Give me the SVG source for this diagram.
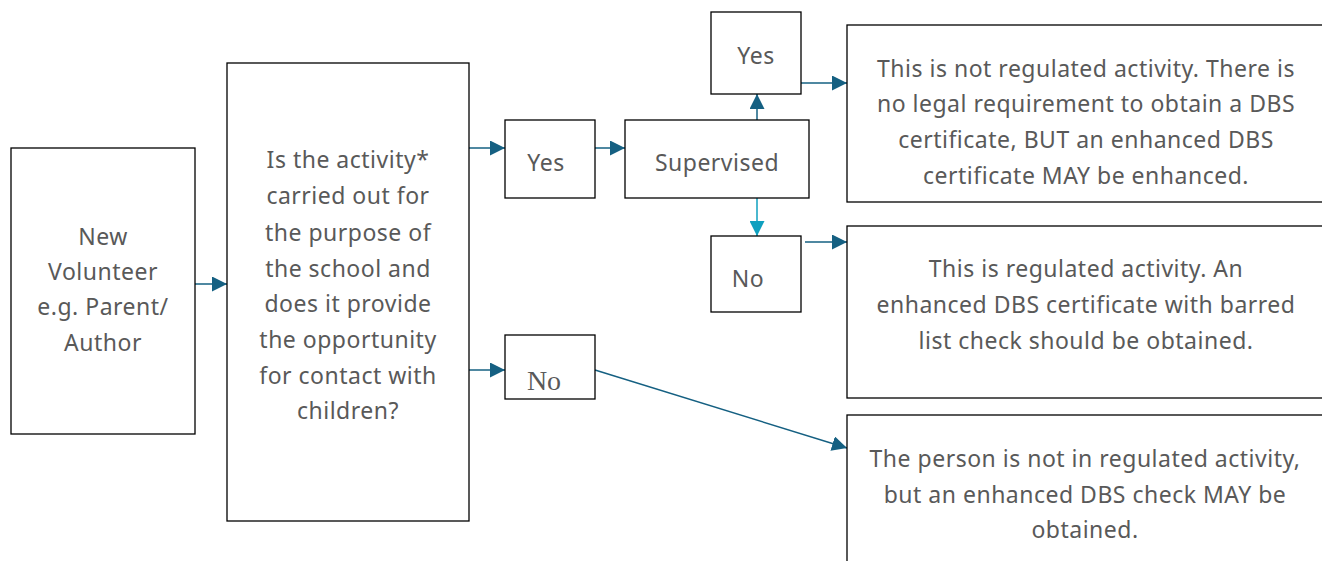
<svg xmlns="http://www.w3.org/2000/svg" width="1322" height="561" viewBox="0 0 1322 561">
<defs>
<marker id="ah" viewBox="0 0 10 10" refX="10" refY="5" markerWidth="10" markerHeight="10" markerUnits="strokeWidth" orient="auto"><path d="M0,0 L10,5 L0,10 z" fill="#156082"/></marker>
<marker id="ahc" viewBox="0 0 10 10" refX="10" refY="5" markerWidth="10" markerHeight="10" markerUnits="strokeWidth" orient="auto"><path d="M0,0 L10,5 L0,10 z" fill="#0FA0BF"/></marker>
</defs>
<style>
.box{fill:#fff;stroke:#000;stroke-width:1.3}
.t{font-family:"Noto Sans","Liberation Sans",sans-serif;font-size:23px;letter-spacing:0.5px;fill:#595959;text-anchor:middle}
.s{font-family:"Liberation Serif",serif;font-size:28px;fill:#595959;text-anchor:middle}
.c{fill:none;stroke:#156082;stroke-width:1.5;marker-end:url(#ah)}
.cc{fill:none;stroke:#0FA0BF;stroke-width:1.5;marker-end:url(#ahc)}
</style>
<g id="connectors">
<line class="c" x1="191" y1="284" x2="227" y2="284"/>
<line class="c" x1="469" y1="148" x2="505" y2="148"/>
<line class="c" x1="595" y1="148" x2="625" y2="148"/>
<line class="c" x1="757" y1="120" x2="757" y2="94"/>
<line class="cc" x1="757" y1="198" x2="757" y2="236"/>
<line class="c" x1="801" y1="83" x2="847" y2="83"/>
<line class="c" x1="805" y1="242" x2="847" y2="242"/>
<line class="c" x1="469" y1="370" x2="505" y2="370"/>
<line class="c" x1="595" y1="370" x2="847" y2="448"/>
</g>
<g id="n-volunteer"><rect class="box" x="11" y="148" width="184" height="286"/>
<text class="t" x="103" y="245">New</text><text class="t" x="103" y="280">Volunteer</text><text class="t" x="103" y="315">e.g. Parent/</text><text class="t" x="103" y="351">Author</text></g>
<g id="n-question"><rect class="box" x="227" y="63" width="242" height="458"/>
<text class="t" x="348" y="168">Is the activity*</text><text class="t" x="348" y="204">carried out for</text><text class="t" x="348" y="241">the purpose of</text><text class="t" x="348" y="277">the school and</text><text class="t" x="348" y="312">does it provide</text><text class="t" x="348" y="348">the opportunity</text><text class="t" x="348" y="384">for contact with</text><text class="t" x="348" y="419">children?</text></g>
<g id="n-yes1"><rect class="box" x="505" y="120" width="90" height="78"/><text class="t" x="546" y="171">Yes</text></g>
<g id="n-supervised"><rect class="box" x="625" y="120" width="184" height="78"/><text class="t" x="717" y="171">Supervised</text></g>
<g id="n-yes2"><rect class="box" x="711" y="12" width="90" height="82"/><text class="t" x="756" y="64">Yes</text></g>
<g id="n-no2"><rect class="box" x="711" y="236" width="90" height="76"/><text class="t" x="748" y="287">No</text></g>
<g id="n-no1"><rect class="box" x="505" y="335" width="90" height="64"/><text class="s" x="544" y="390">No</text></g>
<g id="n-notreg"><rect class="box" x="847" y="25" width="490" height="177"/>
<text class="t" x="1086" y="77">This is not regulated activity. There is</text><text class="t" x="1086" y="112">no legal requirement to obtain a DBS</text><text class="t" x="1086" y="148">certificate, BUT an enhanced DBS</text><text class="t" x="1086" y="184">certificate MAY be enhanced.</text></g>
<g id="n-reg"><rect class="box" x="847" y="226" width="490" height="172"/>
<text class="t" x="1086" y="277">This is regulated activity. An</text><text class="t" x="1086" y="313">enhanced DBS certificate with barred</text><text class="t" x="1086" y="349">list check should be obtained.</text></g>
<g id="n-person"><rect class="box" x="847" y="415" width="490" height="170"/>
<text class="t" x="1085" y="467">The person is not in regulated activity,</text><text class="t" x="1085" y="503">but an enhanced DBS check MAY be</text><text class="t" x="1085" y="538">obtained.</text></g>
</svg>
